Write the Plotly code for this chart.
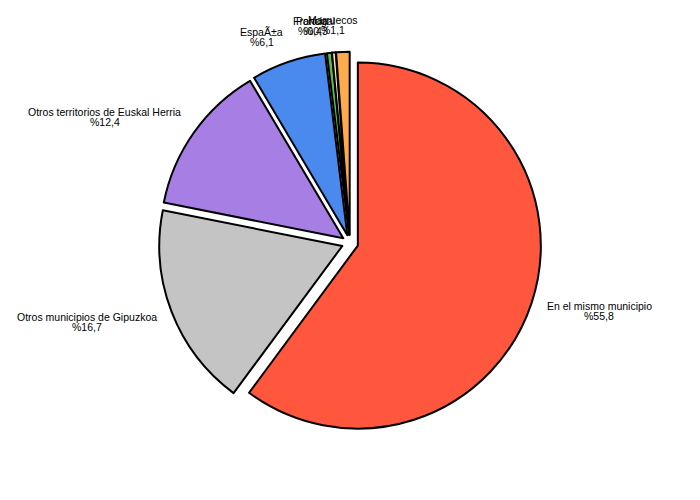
import math
import plotly.graph_objects as go

labels = ["En el mismo municipio", "Otros municipios de Gipuzkoa", "Otros territorios de Euskal Herria",
          "EspaÃ±a", "Francia", "Portugal", "Marruecos"]
values = [55.8, 16.7, 12.4, 6.1, 0.4, 0.3, 1.1]
value_text = ["55,8", "16,7", "12,4", "6,1", "0,4", "0,3", "1,1"]
colors = ["#FE573D", "#C4C4C4", "#A77EE4", "#4A89EE", "#62B84C", "#F7F0A6", "#FFAA4D"]

W, H = 700, 500
OFF = 8                    # page body margin offset (px)
cx, cy = 350 - OFF, 243 - OFF   # pie centre in figure px
radius = 183
pull = 0.045
half = radius * (1 + pull)

fig = go.Figure(go.Pie(
    labels=labels, values=values,
    textinfo="none", sort=False, direction="clockwise", rotation=0,
    pull=[pull] * len(values),
    marker=dict(colors=colors, line=dict(color="black", width=2)),
    hoverinfo="label+percent", showlegend=False,
    domain=dict(x=[(cx - half) / W, (cx + half) / W],
                y=[(H - cy - half) / H, (H - cy + half) / H]),
))

# approximate Arial / Liberation Sans advance widths (per 1000 em)
CW = {" ": 278, "%": 889, ",": 278, ".": 278, "Ã": 667, "±": 584, "í": 222}
CW.update({ch: 556 for ch in "0123456789abdeghnopqu"})
CW.update({"c": 500, "f": 278, "i": 222, "j": 222, "k": 500, "l": 222, "m": 833, "r": 333,
           "s": 500, "t": 278, "v": 500, "w": 722, "x": 500, "y": 500, "z": 500})
CW.update({"E": 667, "F": 611, "G": 778, "H": 722, "M": 833, "O": 778, "P": 667})
FS = 10.5


def text_w(t):
    return sum(CW.get(ch, 556) for ch in t) * FS / 1000


total = sum(values)
rx, ry = 207, 218
acc = 0.0
font = dict(family="Liberation Sans, Arial", size=FS, color="black")
for lab, v, vt in zip(labels, values, value_text):
    mid = (acc + v / 2) / total * 2 * math.pi
    acc += v
    s, c = math.sin(mid), math.cos(mid)
    px = cx + rx * s
    py = cy - ry * c
    pct = "%" + vt
    w = max(text_w(lab), text_w(pct))
    k = max(-1.0, min(1.0, s / 0.1))
    xc = px + k * w / 2            # horizontal centre of the two-line block
    for txt, dy in ((lab, -5), (pct, 5)):
        fig.add_annotation(x=xc / W, y=1 - (py + dy) / H, xref="paper", yref="paper",
                           text=txt, showarrow=False, xanchor="center", yanchor="middle",
                           font=font)

fig.update_layout(width=W, height=H, margin=dict(l=0, r=0, t=0, b=0),
                  paper_bgcolor="white", plot_bgcolor="white")
fig.write_html("out.html")
